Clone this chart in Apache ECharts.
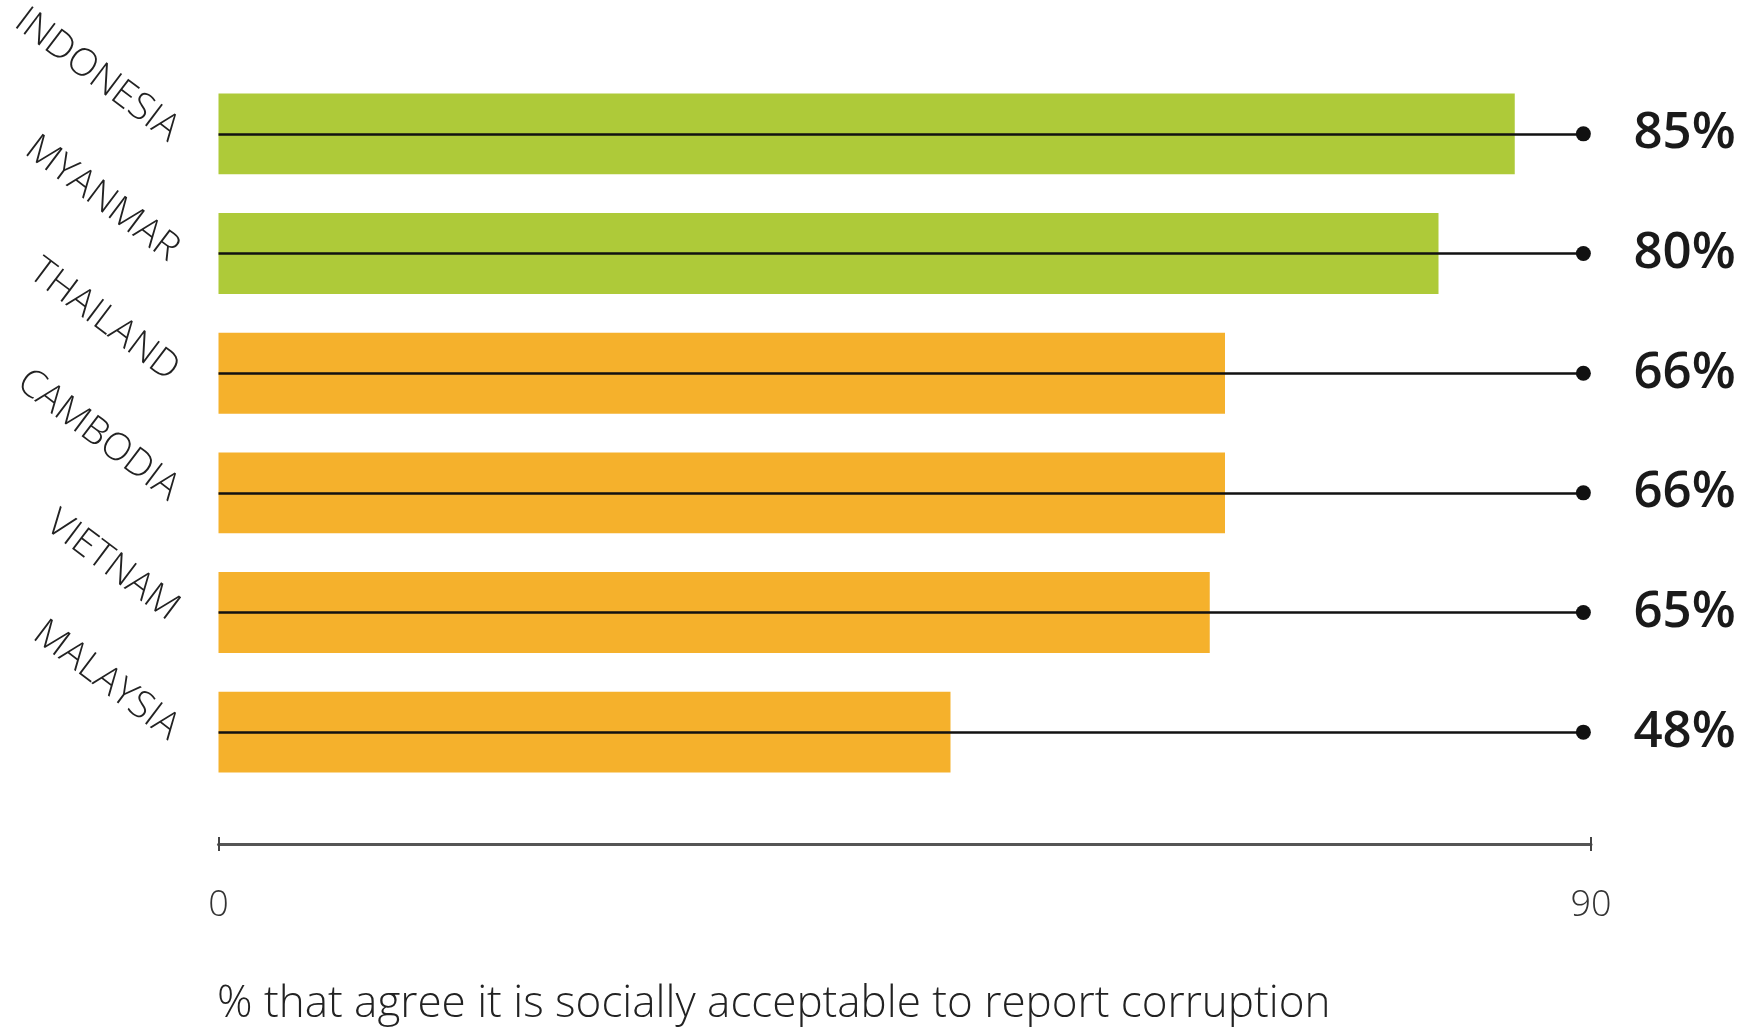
<!DOCTYPE html>
<html>
<head>
<meta charset="utf-8">
<style>
html,body{margin:0;padding:0;background:#fff;}
#chart{width:1755px;height:1028px;}
</style>
<script src="https://cdn.jsdelivr.net/npm/echarts@6/dist/echarts.min.js"></script>
</head>
<body>
<div id="chart"></div>
<script>
var countries = ['INDONESIA','MYANMAR','THAILAND','CAMBODIA','VIETNAM','MALAYSIA'];
var values = [85, 80, 66, 66, 65, 48];
var barColors = ['#aeca39','#aeca39','#f5b12c','#f5b12c','#f5b12c','#f5b12c'];
var axisTicks = [0, 90];
var lineEnd = 89.5;
var caption = '% that agree it is socially acceptable to report corruption';

var chart = echarts.init(document.getElementById('chart'));
var barData = values.map(function(v,i){ return {value:v, itemStyle:{color:barColors[i]}}; });
var lineData = countries.map(function(c){
  return [{coord:[0,c], symbol:'none'}, {coord:[lineEnd,c], symbol:'circle', symbolSize:15}];
});
var xBase = {
  type:'value', min:axisTicks[0], max:axisTicks[1], interval:axisTicks[1]-axisTicks[0],
  position:'bottom', offset:52, splitLine:{show:false}
};
chart.setOption({
  animation:false,
  backgroundColor:'#fff',
  title:{
    text:caption, left:212, top:977,
    textStyle:{fontFamily:'Open Sans', fontWeight:300, fontSize:44, color:'#222'}
  },
  grid:{left:218.5, right:164, top:73, bottom:236, containLabel:false},
  xAxis:[
    Object.assign({}, xBase, {
      axisLine:{show:true, lineStyle:{color:'#555', width:3}},
      axisTick:{show:true, inside:false, length:7, lineStyle:{color:'#444', width:2}},
      axisLabel:{show:true, margin:44, fontFamily:'Open Sans', fontWeight:300, fontSize:36, color:'#333'}
    }),
    Object.assign({}, xBase, {
      axisLine:{show:false},
      axisTick:{show:true, inside:true, length:7, lineStyle:{color:'#444', width:2}},
      axisLabel:{show:false}
    })
  ],
  yAxis:{
    type:'category', data:countries, inverse:true,
    axisLine:{show:false}, axisTick:{show:false},
    axisLabel:{rotate:-37, margin:44, fontFamily:'Open Sans', fontWeight:300, fontSize:38, color:'#222'}
  },
  series:[{
    type:'bar', data:barData, barWidth:'67.6%', xAxisIndex:0,
    markLine:{
      silent:true, animation:false,
      symbol:['none','circle'], symbolSize:15,
      lineStyle:{color:'#111', width:2.5, type:'solid'},
      itemStyle:{color:'#111'},
      label:{show:true, position:'end', distance:50,
        formatter:function(p){ return values[p.dataIndex] + '%'; },
        fontFamily:'Open Sans', fontWeight:600, fontSize:51, color:'#1a1a1a'},
      data:lineData
    }
  }]
});
</script>
</body>
</html>
